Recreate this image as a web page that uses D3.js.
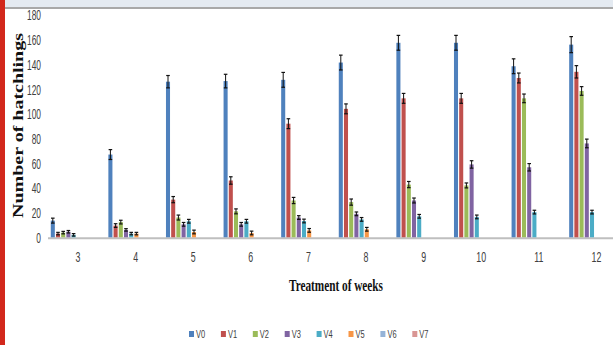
<!DOCTYPE html>
<html>
<head>
<meta charset="utf-8">
<script src="https://cdn.jsdelivr.net/npm/d3@7"></script>
<style>
html,body{margin:0;padding:0;background:#fff;overflow:hidden;}
svg{display:block;}
</style>
</head>
<body>
<svg id="chart" width="613" height="345"></svg>
<script>
const categories = ["3","4","5","6","7","8","9","10","11","12"];
const seriesNames = ["V0","V1","V2","V3","V4","V5","V6","V7"];
const seriesColors = ["#4F81BD","#C0504D","#9BBB59","#8064A2","#4BACC6","#F79646","#95B3D7","#D99694"];
const V0 = [13.5, 67, 126, 126.5, 127.5, 141.5, 157.5, 157.5, 138.5, 156];
const V1 = [3, 9.5, 30.5, 46, 92, 104, 112.5, 112.5, 129, 134];
const V2 = [3.8, 12.3, 16, 21, 29.8, 28.5, 42.7, 42, 112.5, 118.5];
const V3 = [4.5, 6, 10.5, 10.5, 16, 19, 29.8, 59, 56.7, 76];
const V4 = [2, 3, 13, 13, 13.2, 14.5, 17, 16.5, 20.4, 20.4];
const V5 = [0, 3, 4.3, 3.5, 5.6, 6.5, 0, 0, 0, 0];
const V6 = [0, 0, 0, 0, 0, 0, 0, 0, 0, 0];
const V7 = [0, 0, 0, 0, 0, 0, 0, 0, 0, 0];
const E0 = [2, 4, 5, 5.5, 6, 6, 6, 6, 6, 6.5];
const E1 = [1, 1.5, 2.5, 3, 4, 4, 4, 4, 4, 5];
const E2 = [1, 1.5, 2, 2, 2.5, 2.5, 2.5, 2, 3.5, 3.5];
const E3 = [1, 1, 1.5, 1.5, 1.5, 1.5, 2, 3, 3, 3.5];
const E4 = [1, 1, 1.5, 1.5, 1.5, 1.5, 1.5, 1.5, 1.5, 1.5];
const E5 = [0, 1, 1.5, 1.5, 1.5, 1.5, 0, 0, 0, 0];
const E6 = [0, 0, 0, 0, 0, 0, 0, 0, 0, 0];
const E7 = [0, 0, 0, 0, 0, 0, 0, 0, 0, 0];
const yTicks = [0,20,40,60,80,100,120,140,160,180];

const values = [V0,V1,V2,V3,V4,V5,V6,V7];
const errors = [E0,E1,E2,E3,E4,E5,E6,E7];

const svg = d3.select("#chart");
const W = 613, H = 345;

// background decorations
svg.append("rect").attr("x",0).attr("y",0).attr("width",W).attr("height",H).attr("fill","#ffffff");
svg.append("rect").attr("x",5).attr("y",0).attr("width",W-5).attr("height",7).attr("fill","#e4eaf1");
svg.append("line").attr("x1",5).attr("x2",W).attr("y1",8).attr("y2",8).attr("stroke","#a8a8a8").attr("stroke-width",2);
svg.append("rect").attr("x",0).attr("y",0).attr("width",5).attr("height",H).attr("fill","#d2281c");

const x = d3.scaleBand().domain(categories).range([49.2, 49.2 + 57.6*categories.length]).paddingInner(0).paddingOuter(0);
const xs = d3.scaleBand().domain(seriesNames).range([1, 1 + 5.2*seriesNames.length]).paddingInner(0.22).paddingOuter(0.11);
const y = d3.scaleLinear().domain([0,180]).range([237.3, 15]);

// baseline
svg.append("line").attr("x1",48).attr("x2",W).attr("y1",y(0)+1).attr("y2",y(0)+1).attr("stroke","#bfbfbf").attr("stroke-width",2);

// bars
const g = svg.append("g");
seriesNames.forEach((s, si) => {
  const data = categories.map((c, ci) => ({c, v: values[si][ci], e: errors[si][ci]}));
  g.selectAll(".bar-"+s).data(data).enter().append("rect")
    .attr("x", d => x(d.c) + xs(s))
    .attr("width", xs.bandwidth())
    .attr("y", d => y(d.v))
    .attr("height", d => y(0) - y(d.v))
    .attr("fill", seriesColors[si]);
});
// error bars
seriesNames.forEach((s, si) => {
  const data = categories.map((c, ci) => ({c, v: values[si][ci], e: errors[si][ci]})).filter(d => d.v > 0);
  const eg = g.selectAll(".err-"+s).data(data).enter().append("g");
  eg.append("line")
    .attr("x1", d => x(d.c) + xs(s) + xs.bandwidth()/2)
    .attr("x2", d => x(d.c) + xs(s) + xs.bandwidth()/2)
    .attr("y1", d => y(Math.max(0, d.v - d.e)))
    .attr("y2", d => y(d.v + d.e))
    .attr("stroke", "#111").attr("stroke-width", 1);
  ["top","bot"].forEach(k => {
    eg.append("line")
      .attr("x1", d => x(d.c) + xs(s) + xs.bandwidth()/2 - 1.8)
      .attr("x2", d => x(d.c) + xs(s) + xs.bandwidth()/2 + 1.8)
      .attr("y1", d => k === "top" ? y(d.v + d.e) : y(Math.max(0, d.v - d.e)))
      .attr("y2", d => k === "top" ? y(d.v + d.e) : y(Math.max(0, d.v - d.e)))
      .attr("stroke", "#111").attr("stroke-width", 1.2);
  });
});

// y axis labels
const yAxis = d3.axisLeft(y).tickValues(yTicks).tickSize(0).tickPadding(0);
const ya = svg.append("g").attr("transform","translate(41,0)").call(yAxis);
ya.select(".domain").remove();
ya.selectAll("text")
  .attr("font-family","'Liberation Sans', Arial, sans-serif")
  .attr("font-size",14)
  .attr("fill","#404040")
  .attr("x",0)
  .attr("dy","0.35em")
  .attr("text-anchor","end")
  .attr("transform", "scale(0.6,1)");

// x axis labels
const xAxis = d3.axisBottom(x).tickSize(0).tickPadding(0);
const xa = svg.append("g").attr("transform","translate(0,252)").call(xAxis);
xa.select(".domain").remove();
xa.selectAll("text")
  .attr("font-family","'Liberation Sans', Arial, sans-serif")
  .attr("font-size",14)
  .attr("fill","#404040")
  .attr("y",0)
  .attr("dy","0.71em")
  .attr("transform", "scale(0.63,1)");

// axis titles
svg.append("text")
  .attr("x", 336).attr("y", 291)
  .attr("text-anchor","middle")
  .attr("font-family","'Liberation Serif', 'Times New Roman', serif")
  .attr("font-weight","bold")
  .attr("font-size",16)
  .attr("fill","#111")
  .attr("textLength",94).attr("lengthAdjust","spacingAndGlyphs")
  .text("Treatment of weeks");

svg.append("text")
  .attr("transform","translate(23,125.5) rotate(-90)")
  .attr("text-anchor","middle")
  .attr("font-family","'Liberation Serif', 'Times New Roman', serif")
  .attr("font-weight","bold")
  .attr("font-size",14)
  .attr("fill","#111")
  .attr("textLength",185).attr("lengthAdjust","spacingAndGlyphs")
  .text("Number of hatchlings");

// legend
const legendX = d3.scalePoint().domain(seriesNames).range([189, 189 + 31.9*7]);
const lg = svg.append("g").selectAll("g").data(seriesNames).enter().append("g")
  .attr("transform", d => `translate(${legendX(d)},331)`);
lg.append("rect").attr("x",0).attr("y",0).attr("width",5).attr("height",6)
  .attr("fill", (d,i) => seriesColors[i]);
lg.append("text")
  .attr("x", 7).attr("y", 6.5)
  .attr("font-family","'Liberation Sans', Arial, sans-serif")
  .attr("font-size",11)
  .attr("fill","#404040")
  .attr("transform","scale(0.68,1) translate(3.3,0)")
  .text(d => d);
</script>
</body>
</html>
